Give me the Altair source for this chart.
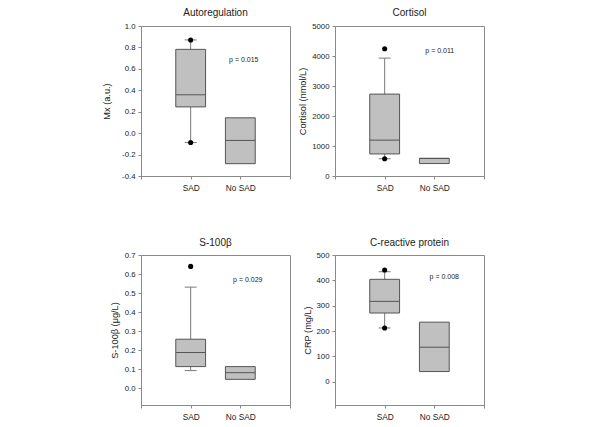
import altair as alt
import pandas as pd

FONT = "Liberation Sans"

groups = ["SAD", "No SAD"]
group_pos = [1, 2]

panel_titles = ["Autoregulation", "Cortisol", "S-100β", "C-reactive protein"]
y_titles = ["Mx (a.u.)", "Cortisol (nmol/L)", "S-100β (μg/L)", "CRP (mg/L)"]

# Autoregulation (Mx)
auto_q1 = [0.245, -0.285]
auto_med = [0.358, -0.068]
auto_q3 = [0.782, 0.143]
auto_wlo = [-0.088, None]
auto_whi = [0.870, None]
auto_dots = [0.870, -0.088]

# Cortisol
cort_q1 = [735, 415]
cort_med = [1195, 585]
cort_q3 = [2730, 590]
cort_wlo = [575, None]
cort_whi = [3930, None]
cort_dots = [4240, 575]

# S-100beta
s100_q1 = [0.113, 0.046]
s100_med = [0.187, 0.081]
s100_q3 = [0.257, 0.113]
s100_wlo = [0.092, None]
s100_whi = [0.531, None]
s100_dots = [0.640]

# CRP
crp_q1 = [271, 40]
crp_med = [317, 136]
crp_q3 = [404, 235]
crp_wlo = [212, None]
crp_whi = [434, None]
crp_dots = [441, 212]

p_texts = ["p = 0.015", "p = 0.011", "p = 0.029", "p = 0.008"]
p_x = [2.07, 2.11, 2.15, 2.2]
p_y = [0.68, 4180, 0.57, 412]

y_domains = [[-0.4, 1.0], [0, 5000], [-0.089, 0.7], [-92, 500]]
y_ticks = [
    [-0.4, -0.2, 0.0, 0.2, 0.4, 0.6, 0.8, 1.0],
    [0, 1000, 2000, 3000, 4000, 5000],
    [0.0, 0.1, 0.2, 0.3, 0.4, 0.5, 0.6, 0.7],
    [0, 100, 200, 300, 400, 500],
]
y_formats = [".1f", "d", ".1f", "d"]
title_pads = [10, 4, 5, 3]

FRAME = "#8a8a8a"
BOX_FILL = "#c0c0c0"
BOX_STROKE = "#555555"
WHISK = "#7a7a7a"


def panel(i, q1, med, q3, wlo, whi, dots, title_offset):
    box = pd.DataFrame({"group": groups, "pos": group_pos, "q1": q1, "med": med, "q3": q3})
    box["left"] = box["pos"] - 0.3
    box["right"] = box["pos"] + 0.3
    wh = pd.DataFrame({"pos": group_pos, "lo": wlo, "hi": whi}).dropna()
    wh["cl"] = wh["pos"] - 0.12
    wh["cr"] = wh["pos"] + 0.12
    dot_df = pd.DataFrame({"pos": [1] * len(dots), "v": dots})
    txt = pd.DataFrame({"x": [p_x[i]], "y": [p_y[i]], "t": [p_texts[i]]})

    xscale = alt.Scale(domain=[0, 3], nice=False, zero=False)
    xaxis = alt.Axis(values=[0, 1, 2, 3],
                     labelExpr="datum.value == 1 ? 'SAD' : (datum.value == 2 ? 'No SAD' : '')",
                     title=None, tickSize=3, labelPadding=4, labelFontSize=8.3)
    yscale = alt.Scale(domain=y_domains[i], nice=False, zero=False)
    yaxis = alt.Axis(values=y_ticks[i],
                     labelExpr="replace(format(datum.value, '%s'), '\u2212', '-')" % y_formats[i],
                     title=y_titles[i], tickSize=3, labelPadding=3, titlePadding=title_pads[i],
                     labelFontSize=7.8, titleFontSize=9.2)

    def X(f):
        return alt.X(f, type="quantitative", scale=xscale, axis=xaxis)

    def Y(f):
        return alt.Y(f, type="quantitative", scale=yscale, axis=yaxis)

    whisk = alt.Chart(wh).mark_rule(color=WHISK, strokeWidth=1).encode(x=X("pos"), y=Y("lo"), y2="hi")
    cap_lo = alt.Chart(wh).mark_rule(color=WHISK, strokeWidth=1).encode(x=X("cl"), x2="cr", y=Y("lo"))
    cap_hi = alt.Chart(wh).mark_rule(color=WHISK, strokeWidth=1).encode(x=X("cl"), x2="cr", y=Y("hi"))
    bars = alt.Chart(box).mark_rect(fill=BOX_FILL, stroke=BOX_STROKE, strokeWidth=1).encode(
        x=X("left"), x2="right", y=Y("q1"), y2="q3")
    medl = alt.Chart(box).mark_rule(color=BOX_STROKE, strokeWidth=1).encode(x=X("left"), x2="right", y=Y("med"))
    pts = alt.Chart(dot_df).mark_circle(color="black", opacity=1, size=26).encode(x=X("pos"), y=Y("v"))
    ptxt = alt.Chart(txt).mark_text(font=FONT, fontSize=7, color="#222", align="center", baseline="middle").encode(
        x=X("x"), y=Y("y"), text="t:N")

    return alt.layer(whisk, cap_lo, cap_hi, bars, medl, pts, ptxt).properties(
        width=149, height=150,
        title=alt.TitleParams(panel_titles[i], offset=title_offset))


c1 = panel(0, auto_q1, auto_med, auto_q3, auto_wlo, auto_whi, auto_dots, 4)
c2 = panel(1, cort_q1, cort_med, cort_q3, cort_wlo, cort_whi, cort_dots, 4)
c3 = panel(2, s100_q1, s100_med, s100_q3, s100_wlo, s100_whi, s100_dots, 3)
c4 = panel(3, crp_q1, crp_med, crp_q3, crp_wlo, crp_whi, crp_dots, 3)

chart = alt.concat(c1, c2, c3, c4, columns=2, spacing={"row": 45, "column": 7}).properties(
    padding={"left": 94, "top": -1, "right": 5, "bottom": 5}
).configure_view(stroke=FRAME, strokeWidth=1).configure_axis(
    labelFont=FONT, titleFont=FONT, labelColor="#222", titleColor="#222",
    domainColor=FRAME, tickColor=FRAME, grid=False, titleFontWeight="normal"
).configure_title(font=FONT, fontSize=10, fontWeight="normal", color="#222", anchor="middle")

chart.save("out.html", embed_options={"renderer": "svg", "actions": False})
